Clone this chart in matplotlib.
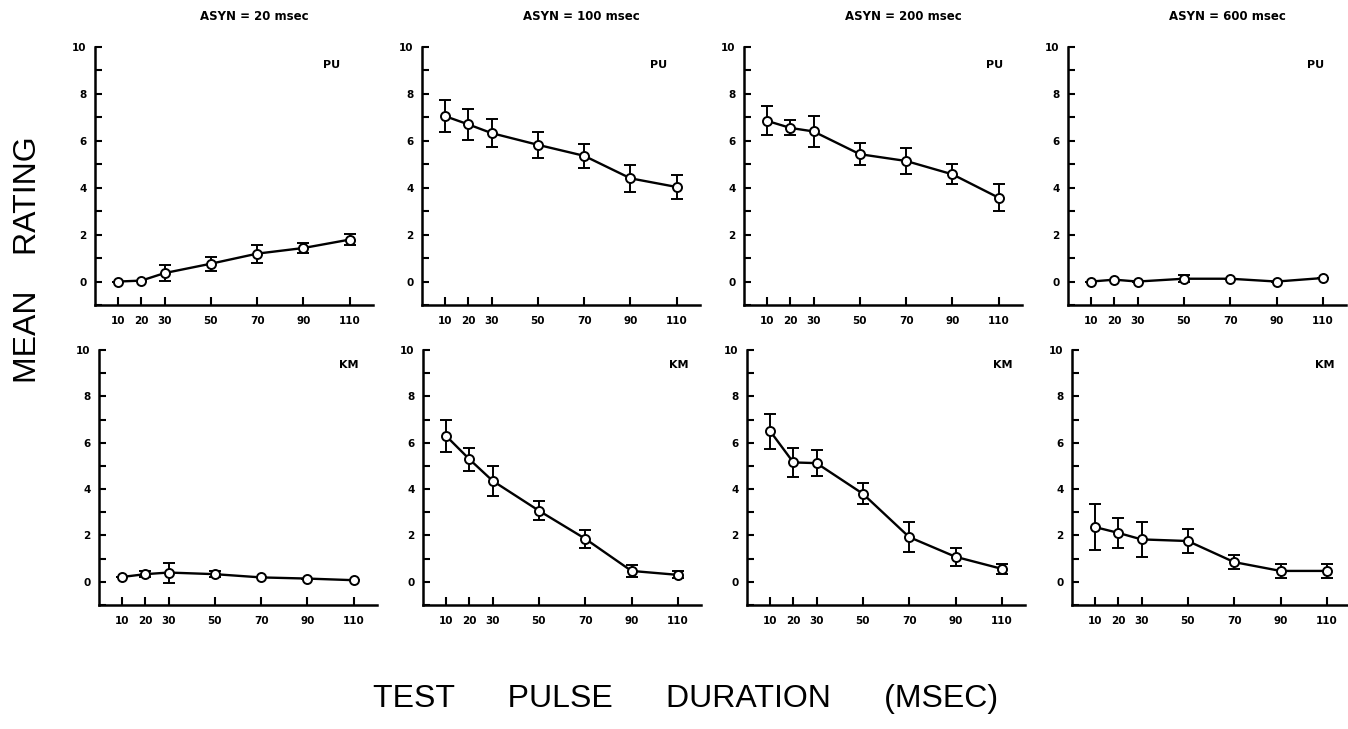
import matplotlib
matplotlib.use("Agg")
import matplotlib.pyplot as plt
from matplotlib.ticker import MultipleLocator

# ---------------- data ----------------
durations = [10, 20, 30, 50, 70, 90, 110]
xtick_labels = ["10", "20", "30", "50", "70", "90", "110"]
titles = ["ASYN = 20 msec", "ASYN = 100 msec", "ASYN = 200 msec", "ASYN = 600 msec"]
subjects = ["PU", "KM"]

pu_20 = [0.0, 0.04, 0.36, 0.76, 1.19, 1.43, 1.79]
pu_20_err = [0.0, 0.0, 0.33, 0.3, 0.38, 0.23, 0.25]
pu_100 = [7.05, 6.7, 6.33, 5.83, 5.36, 4.4, 4.03]
pu_100_err = [0.68, 0.67, 0.6, 0.55, 0.5, 0.57, 0.53]
pu_200 = [6.85, 6.55, 6.4, 5.43, 5.14, 4.57, 3.57]
pu_200_err = [0.62, 0.32, 0.65, 0.46, 0.57, 0.43, 0.57]
pu_600 = [0.0, 0.08, 0.0, 0.12, 0.12, 0.0, 0.15]
pu_600_err = [0.0, 0.0, 0.0, 0.15, 0.0, 0.0, 0.0]

km_20 = [0.21, 0.33, 0.4, 0.33, 0.19, 0.14, 0.07]
km_20_err = [0.0, 0.12, 0.43, 0.12, 0.0, 0.0, 0.0]
km_100 = [6.29, 5.29, 4.36, 3.07, 1.86, 0.47, 0.3]
km_100_err = [0.71, 0.5, 0.64, 0.42, 0.39, 0.25, 0.15]
km_200 = [6.5, 5.15, 5.12, 3.8, 1.93, 1.08, 0.56]
km_200_err = [0.76, 0.63, 0.55, 0.46, 0.64, 0.4, 0.22]
km_600 = [2.36, 2.11, 1.83, 1.76, 0.85, 0.47, 0.47]
km_600_err = [1.0, 0.65, 0.76, 0.53, 0.29, 0.3, 0.3]

series = [
    [(pu_20, pu_20_err), (pu_100, pu_100_err), (pu_200, pu_200_err), (pu_600, pu_600_err)],
    [(km_20, km_20_err), (km_100, km_100_err), (km_200, km_200_err), (km_600, km_600_err)],
]

# ---------------- figure ----------------
W, H = 1348, 729
fig = plt.figure(figsize=(W / 100, H / 100), dpi=100)
fig.patch.set_facecolor("white")

row_top_px = [47, 350]
row_bot_px = [305, 605]
col_left_px = [[95, 422, 744, 1068], [99, 423, 747, 1072]]
ax_w_px = 278
label_pos = [[(0.85, 0.93), (0.85, 0.93), (0.90, 0.93), (0.89, 0.93)],
             [(0.90, 0.94), (0.92, 0.94), (0.92, 0.94), (0.91, 0.94)]]

for r in range(2):
    for c in range(4):
        left = col_left_px[r][c] / W
        bottom = 1 - row_bot_px[r] / H
        height = (row_bot_px[r] - row_top_px[r]) / H
        ax = fig.add_axes([left, bottom, ax_w_px / W, height])
        y, e = series[r][c]
        ax.errorbar(durations, y, yerr=e, color="black", lw=1.7,
                    marker="o", markersize=6.5, markerfacecolor="white",
                    markeredgecolor="black", markeredgewidth=1.4,
                    elinewidth=1.4, capsize=4, capthick=1.5, zorder=3)
        ax.set_xlim(0, 120)
        ax.set_ylim(-1, 10)
        ax.spines["top"].set_visible(False)
        ax.spines["right"].set_visible(False)
        ax.spines["left"].set_linewidth(1.8)
        ax.spines["bottom"].set_linewidth(1.8)
        ax.set_xticks(durations)
        ax.set_xticklabels(xtick_labels)
        ax.set_yticks([0, 2, 4, 6, 8, 10])
        ax.yaxis.set_minor_locator(MultipleLocator(1))
        ax.tick_params(axis="both", which="both", direction="in",
                       width=1.5, labelsize=7.5)
        ax.tick_params(axis="x", length=6, pad=8)
        ax.tick_params(axis="y", which="major", length=5, pad=6)
        ax.tick_params(axis="y", which="minor", length=5)
        for lab in ax.get_xticklabels() + ax.get_yticklabels():
            lab.set_fontweight("bold")
        lx, ly = label_pos[r][c]
        ax.text(lx, ly, subjects[r], transform=ax.transAxes, ha="center",
                va="center", fontsize=8, fontweight="bold")
        if r == 0:
            cx = (col_left_px[r][c] + ax_w_px / 2 + 20) / W
            fig.text(cx, 1 - 17 / H, titles[c], ha="center", va="center",
                     fontsize=8.5, fontweight="bold")

fig.text(28 / W, 1 - 260 / H, "MEAN    RATING", rotation=90, ha="center",
         va="center", fontsize=23, family="Liberation Sans")
fig.text(686 / W, 1 - 699 / H, "TEST      PULSE      DURATION      (MSEC)",
         ha="center", va="center", fontsize=23, family="Liberation Sans")

fig.savefig("out.png", dpi=100, facecolor="white")
